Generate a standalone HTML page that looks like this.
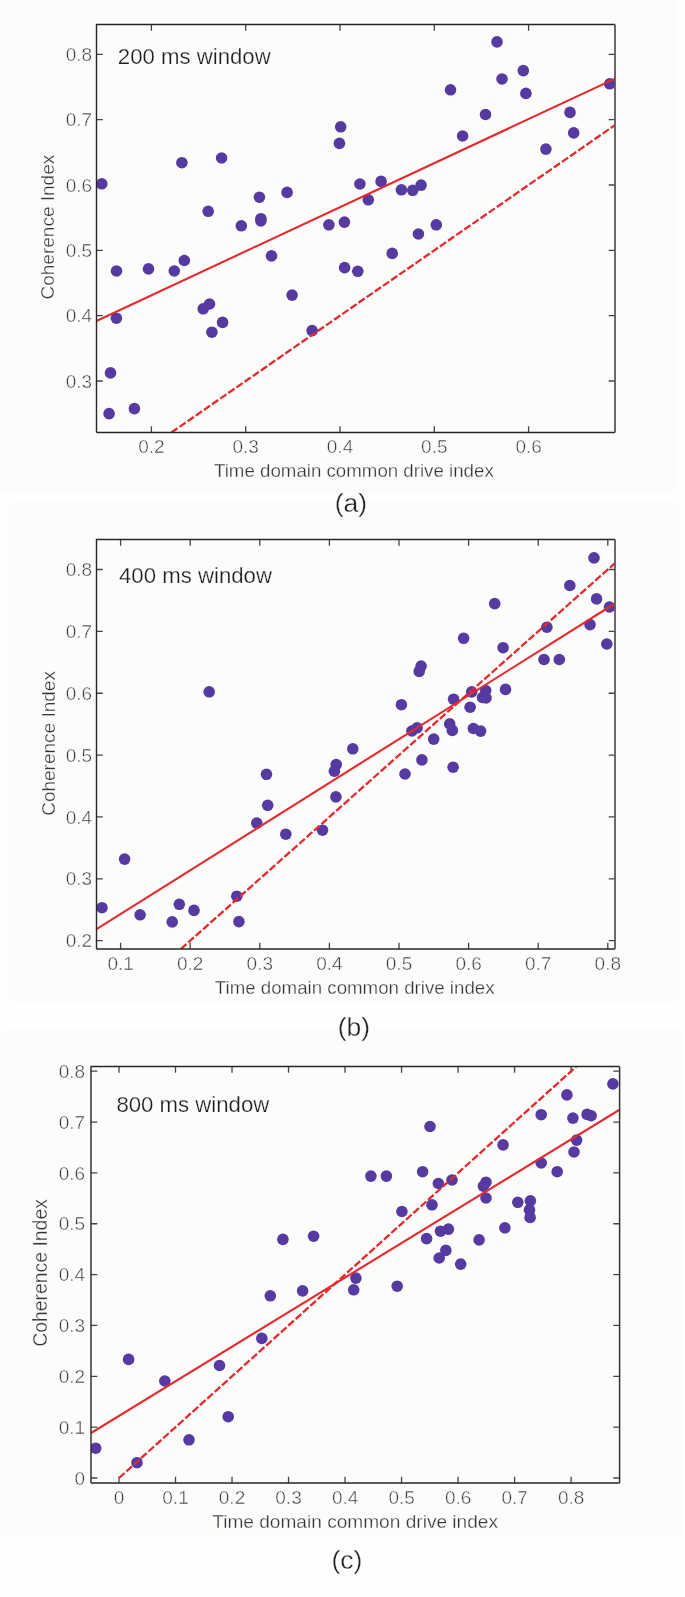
<!DOCTYPE html>
<html><head><meta charset="utf-8"><style>
html,body{margin:0;padding:0;background:#fefefe;width:685px;height:1597px;overflow:hidden}
svg{display:block;will-change:transform}
text{font-family:"Liberation Sans",sans-serif;}
.tk{font-size:19px;fill:#3c3c3c;stroke:#fcfcfa;stroke-width:0.45px}
.ti{font-size:22.2px;fill:#1e1e1e;stroke:#fcfcfa;stroke-width:0.25px}
.lb{font-size:19px;fill:#333;stroke:#fcfcfa;stroke-width:0.3px}
.pl{font-size:26.5px;fill:#222;stroke:#fcfcfa;stroke-width:0.35px}
</style></head><body>
<svg width="685" height="1597" viewBox="0 0 685 1597">
<rect x="0" y="0" width="677.5" height="493" fill="#fcfcfa"/><rect x="10" y="501" width="668" height="503" fill="#fcfcfa"/><rect x="2" y="1028" width="682" height="510" fill="#fcfcfa"/><clipPath id="cp0"><rect x="96.5" y="24.5" width="518.5" height="408.0"/></clipPath>
<path d="M151.4 432.5v-6.3M151.4 24.5v6.3M245.7 432.5v-6.3M245.7 24.5v6.3M340.0 432.5v-6.3M340.0 24.5v6.3M434.3 432.5v-6.3M434.3 24.5v6.3M528.6 432.5v-6.3M528.6 24.5v6.3M96.5 381.0h6.3M615 381.0h-6.3M96.5 315.66h6.3M615 315.66h-6.3M96.5 250.32h6.3M615 250.32h-6.3M96.5 184.98h6.3M615 184.98h-6.3M96.5 119.64h6.3M615 119.64h-6.3M96.5 54.3h6.3M615 54.3h-6.3" fill="none" stroke="#444" stroke-width="1.3"/>
<g fill="#563aa1" clip-path="url(#cp0)"><circle cx="101.8" cy="183.8" r="5.8"/><circle cx="181.9" cy="162.7" r="5.8"/><circle cx="221.6" cy="158.0" r="5.8"/><circle cx="259.4" cy="197.2" r="5.8"/><circle cx="208.2" cy="211.3" r="5.8"/><circle cx="241.3" cy="225.8" r="5.8"/><circle cx="260.9" cy="218.7" r="5.8"/><circle cx="260.9" cy="220.9" r="5.8"/><circle cx="271.5" cy="255.9" r="5.8"/><circle cx="184.3" cy="260.5" r="5.8"/><circle cx="116.5" cy="271.0" r="5.8"/><circle cx="148.5" cy="268.9" r="5.8"/><circle cx="174.3" cy="271.0" r="5.8"/><circle cx="116.4" cy="318.2" r="5.8"/><circle cx="203.2" cy="308.8" r="5.8"/><circle cx="209.5" cy="304.0" r="5.8"/><circle cx="222.6" cy="322.4" r="5.8"/><circle cx="211.9" cy="332.2" r="5.8"/><circle cx="110.5" cy="372.9" r="5.8"/><circle cx="109.1" cy="413.6" r="5.8"/><circle cx="134.4" cy="408.6" r="5.8"/><circle cx="340.7" cy="126.8" r="5.8"/><circle cx="339.4" cy="143.4" r="5.8"/><circle cx="287.1" cy="192.4" r="5.8"/><circle cx="359.9" cy="184.0" r="5.8"/><circle cx="381.1" cy="181.4" r="5.8"/><circle cx="368.3" cy="199.8" r="5.8"/><circle cx="401.4" cy="189.8" r="5.8"/><circle cx="412.7" cy="190.3" r="5.8"/><circle cx="421.1" cy="185.1" r="5.8"/><circle cx="328.9" cy="224.8" r="5.8"/><circle cx="344.4" cy="222.1" r="5.8"/><circle cx="436.3" cy="224.8" r="5.8"/><circle cx="418.4" cy="234.0" r="5.8"/><circle cx="392.2" cy="253.4" r="5.8"/><circle cx="344.6" cy="267.6" r="5.8"/><circle cx="357.8" cy="271.3" r="5.8"/><circle cx="497" cy="41.9" r="5.8"/><circle cx="450.5" cy="89.8" r="5.8"/><circle cx="523.3" cy="70.6" r="5.8"/><circle cx="502" cy="79.0" r="5.8"/><circle cx="525.9" cy="93.4" r="5.8"/><circle cx="609.7" cy="83.8" r="5.8"/><circle cx="485.5" cy="114.5" r="5.8"/><circle cx="570" cy="112.4" r="5.8"/><circle cx="462.6" cy="136.0" r="5.8"/><circle cx="573.7" cy="132.9" r="5.8"/><circle cx="545.9" cy="149.1" r="5.8"/><circle cx="292.1" cy="295.1" r="5.8"/><circle cx="312.1" cy="330.6" r="5.8"/></g>
<g clip-path="url(#cp0)">
<line x1="96.4" y1="321" x2="615" y2="78.7" stroke="#e42a2f" stroke-width="2.1"/>
<line x1="171.37" y1="432.50" x2="615.00" y2="125.11" stroke="#e42a2f" stroke-width="2.3" stroke-dasharray="7.5 2.4"/>
</g>
<path d="M96.5 432.5V24.5H615" fill="none" stroke="#262626" stroke-width="1.4"/>
<path d="M96.5 432.5H615" fill="none" stroke="#262626" stroke-width="1.6"/>
<path d="M615 24.5V432.5" fill="none" stroke="#5a5a5a" stroke-width="1.8"/>
<text x="151.4" y="453.3" text-anchor="middle" class="tk">0.2</text>
<text x="245.7" y="453.3" text-anchor="middle" class="tk">0.3</text>
<text x="340.0" y="453.3" text-anchor="middle" class="tk">0.4</text>
<text x="434.3" y="453.3" text-anchor="middle" class="tk">0.5</text>
<text x="528.6" y="453.3" text-anchor="middle" class="tk">0.6</text>
<text x="92.1" y="387.6" text-anchor="end" class="tk">0.3</text>
<text x="92.1" y="322.3" text-anchor="end" class="tk">0.4</text>
<text x="92.1" y="256.9" text-anchor="end" class="tk">0.5</text>
<text x="92.1" y="191.6" text-anchor="end" class="tk">0.6</text>
<text x="92.1" y="126.2" text-anchor="end" class="tk">0.7</text>
<text x="92.1" y="60.9" text-anchor="end" class="tk">0.8</text>
<text x="117.8" y="63.5" class="ti">200 ms window</text>
<text transform="translate(54 299.5) rotate(-90)" class="lb" style="font-size:19px">Coherence Index</text>
<text x="214" y="477.4" class="lb" style="font-size:18.7px">Time domain common drive index</text>
<text x="351" y="512" text-anchor="middle" class="pl">(a)</text>
<clipPath id="cp1"><rect x="96.5" y="539.5" width="518.5" height="409.5"/></clipPath>
<path d="M120.6 949v-6.3M120.6 539.5v6.3M190.2 949v-6.3M190.2 539.5v6.3M259.8 949v-6.3M259.8 539.5v6.3M329.4 949v-6.3M329.4 539.5v6.3M399.0 949v-6.3M399.0 539.5v6.3M468.6 949v-6.3M468.6 539.5v6.3M538.2 949v-6.3M538.2 539.5v6.3M607.8 949v-6.3M607.8 539.5v6.3M96.5 940.7h6.3M615 940.7h-6.3M96.5 878.83h6.3M615 878.83h-6.3M96.5 816.97h6.3M615 816.97h-6.3M96.5 755.1h6.3M615 755.1h-6.3M96.5 693.23h6.3M615 693.23h-6.3M96.5 631.37h6.3M615 631.37h-6.3M96.5 569.5h6.3M615 569.5h-6.3" fill="none" stroke="#444" stroke-width="1.3"/>
<g fill="#563aa1" clip-path="url(#cp1)"><circle cx="209.2" cy="691.8" r="5.8"/><circle cx="266.5" cy="774.3" r="5.8"/><circle cx="267.7" cy="805.3" r="5.8"/><circle cx="256.8" cy="823.1" r="5.8"/><circle cx="124.6" cy="859.1" r="5.8"/><circle cx="102" cy="907.7" r="5.8"/><circle cx="140.1" cy="914.8" r="5.8"/><circle cx="179.3" cy="904.3" r="5.8"/><circle cx="194" cy="910.4" r="5.8"/><circle cx="172.2" cy="921.9" r="5.8"/><circle cx="236.8" cy="896.2" r="5.8"/><circle cx="238.9" cy="921.6" r="5.8"/><circle cx="419.2" cy="671.4" r="5.8"/><circle cx="421.1" cy="666.1" r="5.8"/><circle cx="401.4" cy="704.7" r="5.8"/><circle cx="411.9" cy="731.0" r="5.8"/><circle cx="417.1" cy="727.8" r="5.8"/><circle cx="433.7" cy="739.1" r="5.8"/><circle cx="421.9" cy="759.9" r="5.8"/><circle cx="405" cy="774.0" r="5.8"/><circle cx="352.8" cy="748.8" r="5.8"/><circle cx="334.4" cy="771.2" r="5.8"/><circle cx="336.2" cy="764.6" r="5.8"/><circle cx="335.9" cy="796.9" r="5.8"/><circle cx="594" cy="557.9" r="5.8"/><circle cx="569.8" cy="585.5" r="5.8"/><circle cx="494.7" cy="603.6" r="5.8"/><circle cx="596.6" cy="598.9" r="5.8"/><circle cx="609.5" cy="607.0" r="5.8"/><circle cx="463.6" cy="638.3" r="5.8"/><circle cx="546.9" cy="627.2" r="5.8"/><circle cx="590" cy="624.6" r="5.8"/><circle cx="503.1" cy="647.7" r="5.8"/><circle cx="606.8" cy="644.0" r="5.8"/><circle cx="544" cy="659.5" r="5.8"/><circle cx="559.3" cy="659.5" r="5.8"/><circle cx="453.6" cy="699.2" r="5.8"/><circle cx="470.1" cy="707.2" r="5.8"/><circle cx="505.5" cy="689.4" r="5.8"/><circle cx="471.7" cy="691.9" r="5.8"/><circle cx="485.7" cy="690.5" r="5.8"/><circle cx="482.5" cy="697.5" r="5.8"/><circle cx="486" cy="698.0" r="5.8"/><circle cx="449.7" cy="723.9" r="5.8"/><circle cx="452.3" cy="730.4" r="5.8"/><circle cx="473.4" cy="728.5" r="5.8"/><circle cx="480.6" cy="731.1" r="5.8"/><circle cx="453.1" cy="767.2" r="5.8"/><circle cx="285.8" cy="834.2" r="5.8"/><circle cx="322.5" cy="830.2" r="5.8"/></g>
<g clip-path="url(#cp1)">
<line x1="96.5" y1="929.2" x2="614.5" y2="603.7" stroke="#e42a2f" stroke-width="2.1"/>
<line x1="180.86" y1="949.00" x2="615.00" y2="563.10" stroke="#e42a2f" stroke-width="2.3" stroke-dasharray="7.5 2.4"/>
</g>
<path d="M96.5 949V539.5H615" fill="none" stroke="#262626" stroke-width="1.4"/>
<path d="M96.5 949H615" fill="none" stroke="#262626" stroke-width="1.6"/>
<path d="M615 539.5V949" fill="none" stroke="#5a5a5a" stroke-width="1.8"/>
<text x="120.6" y="969.8" text-anchor="middle" class="tk">0.1</text>
<text x="190.2" y="969.8" text-anchor="middle" class="tk">0.2</text>
<text x="259.8" y="969.8" text-anchor="middle" class="tk">0.3</text>
<text x="329.4" y="969.8" text-anchor="middle" class="tk">0.4</text>
<text x="399.0" y="969.8" text-anchor="middle" class="tk">0.5</text>
<text x="468.6" y="969.8" text-anchor="middle" class="tk">0.6</text>
<text x="538.2" y="969.8" text-anchor="middle" class="tk">0.7</text>
<text x="607.8" y="969.8" text-anchor="middle" class="tk">0.8</text>
<text x="92.1" y="947.3" text-anchor="end" class="tk">0.2</text>
<text x="92.1" y="885.4" text-anchor="end" class="tk">0.3</text>
<text x="92.1" y="823.6" text-anchor="end" class="tk">0.4</text>
<text x="92.1" y="761.7" text-anchor="end" class="tk">0.5</text>
<text x="92.1" y="699.8" text-anchor="end" class="tk">0.6</text>
<text x="92.1" y="638.0" text-anchor="end" class="tk">0.7</text>
<text x="92.1" y="576.1" text-anchor="end" class="tk">0.8</text>
<text x="119" y="583.4" class="ti">400 ms window</text>
<text transform="translate(54.5 815.8) rotate(-90)" class="lb" style="font-size:19px">Coherence Index</text>
<text x="214.8" y="994.1" class="lb" style="font-size:18.7px">Time domain common drive index</text>
<text x="354" y="1036" text-anchor="middle" class="pl">(b)</text>
<clipPath id="cp2"><rect x="91" y="1066.5" width="528.6" height="416.5"/></clipPath>
<path d="M119.0 1483v-6.3M119.0 1066.5v6.3M175.51 1483v-6.3M175.51 1066.5v6.3M232.03 1483v-6.3M232.03 1066.5v6.3M288.54 1483v-6.3M288.54 1066.5v6.3M345.05 1483v-6.3M345.05 1066.5v6.3M401.56 1483v-6.3M401.56 1066.5v6.3M458.07 1483v-6.3M458.07 1066.5v6.3M514.59 1483v-6.3M514.59 1066.5v6.3M571.1 1483v-6.3M571.1 1066.5v6.3M91 1478.0h6.3M619.6 1478.0h-6.3M91 1427.15h6.3M619.6 1427.15h-6.3M91 1376.3h6.3M619.6 1376.3h-6.3M91 1325.45h6.3M619.6 1325.45h-6.3M91 1274.6h6.3M619.6 1274.6h-6.3M91 1223.75h6.3M619.6 1223.75h-6.3M91 1172.9h6.3M619.6 1172.9h-6.3M91 1122.05h6.3M619.6 1122.05h-6.3M91 1071.2h6.3M619.6 1071.2h-6.3" fill="none" stroke="#444" stroke-width="1.3"/>
<g fill="#563aa1" clip-path="url(#cp2)"><circle cx="128.6" cy="1359.4" r="5.8"/><circle cx="164.8" cy="1381.0" r="5.8"/><circle cx="219.5" cy="1365.5" r="5.8"/><circle cx="261.8" cy="1338.4" r="5.8"/><circle cx="228.2" cy="1416.7" r="5.8"/><circle cx="189" cy="1439.8" r="5.8"/><circle cx="95.7" cy="1448.2" r="5.8"/><circle cx="137" cy="1462.7" r="5.8"/><circle cx="430" cy="1126.5" r="5.8"/><circle cx="370.9" cy="1176.1" r="5.8"/><circle cx="386.4" cy="1176.1" r="5.8"/><circle cx="422.6" cy="1171.7" r="5.8"/><circle cx="438.4" cy="1183.5" r="5.8"/><circle cx="282.9" cy="1239.4" r="5.8"/><circle cx="313.6" cy="1236.2" r="5.8"/><circle cx="270.3" cy="1295.8" r="5.8"/><circle cx="302.6" cy="1290.9" r="5.8"/><circle cx="355.9" cy="1278.1" r="5.8"/><circle cx="353.7" cy="1289.8" r="5.8"/><circle cx="397.2" cy="1286.2" r="5.8"/><circle cx="401.9" cy="1211.5" r="5.8"/><circle cx="432" cy="1204.8" r="5.8"/><circle cx="426.6" cy="1238.6" r="5.8"/><circle cx="440.5" cy="1231.2" r="5.8"/><circle cx="448.4" cy="1229.1" r="5.8"/><circle cx="445.8" cy="1250.4" r="5.8"/><circle cx="439.2" cy="1258.0" r="5.8"/><circle cx="612.9" cy="1083.9" r="5.8"/><circle cx="566.9" cy="1094.9" r="5.8"/><circle cx="541.2" cy="1114.7" r="5.8"/><circle cx="572.9" cy="1118.1" r="5.8"/><circle cx="587.1" cy="1114.4" r="5.8"/><circle cx="591.1" cy="1115.7" r="5.8"/><circle cx="503.1" cy="1144.9" r="5.8"/><circle cx="576.6" cy="1140.1" r="5.8"/><circle cx="574" cy="1152.0" r="5.8"/><circle cx="541.2" cy="1163.0" r="5.8"/><circle cx="557.2" cy="1171.7" r="5.8"/><circle cx="452" cy="1180.0" r="5.8"/><circle cx="486" cy="1182.2" r="5.8"/><circle cx="483.4" cy="1186.1" r="5.8"/><circle cx="486" cy="1198.0" r="5.8"/><circle cx="517.8" cy="1202.3" r="5.8"/><circle cx="530.4" cy="1200.8" r="5.8"/><circle cx="529.5" cy="1209.9" r="5.8"/><circle cx="530.1" cy="1217.4" r="5.8"/><circle cx="504.9" cy="1227.8" r="5.8"/><circle cx="479.1" cy="1239.9" r="5.8"/><circle cx="460.7" cy="1264.1" r="5.8"/></g>
<g clip-path="url(#cp2)">
<line x1="91" y1="1433" x2="620" y2="1109.4" stroke="#e42a2f" stroke-width="2.1"/>
<line x1="119.00" y1="1478.00" x2="576.32" y2="1066.50" stroke="#e42a2f" stroke-width="2.3" stroke-dasharray="7.5 2.4"/>
</g>
<path d="M91 1483V1066.5H619.6" fill="none" stroke="#262626" stroke-width="1.4"/>
<path d="M91 1483H619.6" fill="none" stroke="#262626" stroke-width="1.6"/>
<path d="M619.6 1066.5V1483" fill="none" stroke="#333" stroke-width="1.5"/>
<text x="119.0" y="1503.8" text-anchor="middle" class="tk">0</text>
<text x="175.5" y="1503.8" text-anchor="middle" class="tk">0.1</text>
<text x="232.0" y="1503.8" text-anchor="middle" class="tk">0.2</text>
<text x="288.5" y="1503.8" text-anchor="middle" class="tk">0.3</text>
<text x="345.1" y="1503.8" text-anchor="middle" class="tk">0.4</text>
<text x="401.6" y="1503.8" text-anchor="middle" class="tk">0.5</text>
<text x="458.1" y="1503.8" text-anchor="middle" class="tk">0.6</text>
<text x="514.6" y="1503.8" text-anchor="middle" class="tk">0.7</text>
<text x="571.1" y="1503.8" text-anchor="middle" class="tk">0.8</text>
<text x="85.1" y="1484.6" text-anchor="end" class="tk">0</text>
<text x="85.1" y="1433.8" text-anchor="end" class="tk">0.1</text>
<text x="85.1" y="1382.9" text-anchor="end" class="tk">0.2</text>
<text x="85.1" y="1332.0" text-anchor="end" class="tk">0.3</text>
<text x="85.1" y="1281.2" text-anchor="end" class="tk">0.4</text>
<text x="85.1" y="1230.3" text-anchor="end" class="tk">0.5</text>
<text x="85.1" y="1179.5" text-anchor="end" class="tk">0.6</text>
<text x="85.1" y="1128.7" text-anchor="end" class="tk">0.7</text>
<text x="85.1" y="1077.8" text-anchor="end" class="tk">0.8</text>
<text x="116.4" y="1111.9" class="ti">800 ms window</text>
<text transform="translate(47 1346.8) rotate(-90)" class="lb" style="font-size:19.4px">Coherence Index</text>
<text x="212.2" y="1528.1" class="lb" style="font-size:19.1px">Time domain common drive index</text>
<text x="347" y="1569" text-anchor="middle" class="pl">(c)</text>
</svg>
</body></html>
